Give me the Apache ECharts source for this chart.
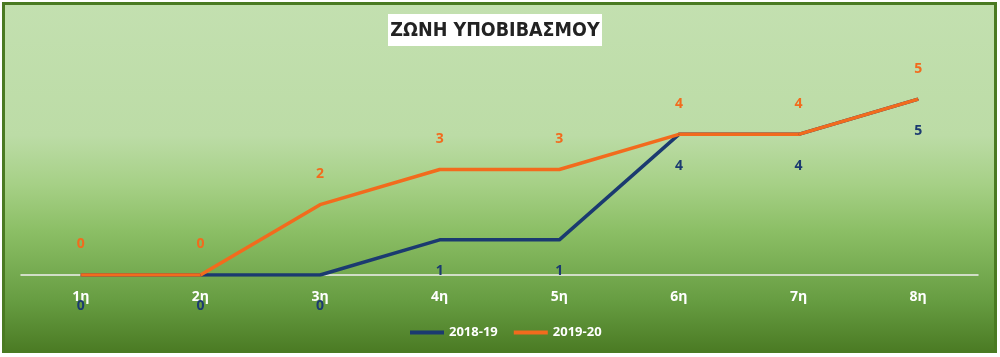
<!DOCTYPE html>
<html>
<head>
<meta charset="utf-8">
<script src="https://cdn.jsdelivr.net/npm/echarts@6/dist/echarts.min.js"></script>
<style>
html,body{margin:0;padding:0;background:#ffffff;}
#c{width:1000px;height:357px;}
</style>
</head>
<body>
<div id="c"></div>
<script>
const titleText = 'ΖΩΝΗ ΥΠΟΒΙΒΑΣΜΟΥ';
const categories = ['1η','2η','3η','4η','5η','6η','7η','8η'];
const season1 = '2018-19';
const season2 = '2019-20';
const values1 = [0,0,0,1,1,4,4,5];
const values2 = [0,0,2,3,3,4,4,5];

const chart = echarts.init(document.getElementById('c'), null, {renderer:'canvas'});
const numFont = '"Open Sans",sans-serif';
chart.setOption({
  animation:false,
  graphic:[
    {type:'rect', z:-10, shape:{x:3.5,y:3.5,width:992,height:348},
     style:{
       fill:new echarts.graphic.LinearGradient(0,0,0,1,[
         {offset:0,color:'#c3e0b0'},
         {offset:0.38,color:'#bcdca6'},
         {offset:0.52,color:'#a6d086'},
         {offset:0.65,color:'#8cbf66'},
         {offset:0.85,color:'#679d42'},
         {offset:1,color:'#4a7a23'}
       ]),
       stroke:'#4a7a22', lineWidth:3
     }},
    {type:'rect', z:10, shape:{x:388,y:14,width:214,height:32}, style:{fill:'#ffffff'}},
    {type:'text', z:11, x:495, y:31, style:{text:titleText, fill:'#222222', fontSize:19.5, fontWeight:'bold',
      fontFamily:'"Liberation Sans Narrow","DejaVu Sans Condensed",sans-serif', align:'center', verticalAlign:'middle'}}
  ],
  grid:{left:21,right:22,top:64,bottom:82,containLabel:false},
  legend:{
    data:[season1,season2], left:405, top:321,
    icon:'rect', itemWidth:34, itemHeight:4, itemGap:16,
    textStyle:{color:'#ffffff', fontWeight:'bold', fontSize:13, fontFamily:'"Open Sans",sans-serif'}
  },
  xAxis:{
    type:'category', data:categories, boundaryGap:true,
    axisLine:{lineStyle:{color:'#f0f0f0', width:1.5}},
    axisTick:{show:false},
    axisLabel:{color:'#ffffff', fontWeight:'bold', fontSize:14, margin:15, fontFamily:'"Open Sans",sans-serif'}
  },
  yAxis:{type:'value', min:0, max:6, show:false, splitLine:{show:false}},
  series:[
    {name:season1, type:'line', data:values1, color:'#1b3a70',
     lineStyle:{width:3.5, color:'#1b3a70'}, symbol:'circle', symbolSize:1,
     label:{show:true, position:'bottom', distance:24, color:'#1b3a70', fontWeight:'bold', fontSize:14, fontFamily:numFont}},
    {name:season2, type:'line', data:values2, color:'#f26b1d',
     lineStyle:{width:3.5, color:'#f26b1d'}, symbol:'circle', symbolSize:1,
     label:{show:true, position:'top', distance:23, color:'#f26b1d', fontWeight:'bold', fontSize:14, fontFamily:numFont}}
  ]
});
</script>
</body>
</html>
